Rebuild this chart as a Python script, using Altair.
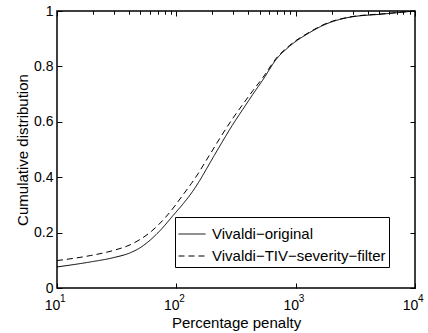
import altair as alt
import pandas as pd

pen_original = [10, 19, 30, 41, 50, 60, 73, 94, 114, 134, 157, 179, 205, 231, 299, 362, 439, 532, 689, 891, 1309, 1800, 2800, 5400, 10000]
cdf_original = [0.076, 0.094, 0.110, 0.127, 0.146, 0.172, 0.207, 0.262, 0.304, 0.343, 0.388, 0.430, 0.474, 0.512, 0.592, 0.646, 0.700, 0.752, 0.826, 0.873, 0.922, 0.953, 0.977, 0.989, 1.0]
pen_filter = [10, 19, 30, 41, 50, 60, 70, 80, 97, 114, 134, 155, 173, 195, 231, 299, 362, 439, 532, 689, 891, 1309, 1800, 2800, 5400, 10000]
cdf_filter = [0.099, 0.117, 0.136, 0.156, 0.176, 0.200, 0.226, 0.252, 0.296, 0.337, 0.378, 0.418, 0.452, 0.488, 0.540, 0.614, 0.664, 0.713, 0.760, 0.830, 0.876, 0.924, 0.955, 0.978, 0.990, 1.0]
series_names = ["Vivaldi\u2212original", "Vivaldi\u2212TIV\u2212severity\u2212filter"]

major_x = [10, 100, 1000, 10000]
exponents = ["1", "2", "3", "4"]
minor_x = [m * d for d in (10, 100, 1000) for m in range(2, 10)]
y_ticks = [0, 0.2, 0.4, 0.6, 0.8, 1.0]

rows = [{"x": p, "y": v, "s": series_names[0]} for p, v in zip(pen_original, cdf_original)]
rows += [{"x": p, "y": v, "s": series_names[1]} for p, v in zip(pen_filter, cdf_filter)]
df = pd.DataFrame(rows)

FONT = "Liberation Sans"
xs = alt.Scale(type="log", domain=[10, 10000], nice=False)
ys = alt.Scale(domain=[0, 1], nice=False)
TS_MAJ = {"expr": "-5"}
TS_MIN = {"expr": "-3"}

lines = alt.Chart(df).mark_line(color="black", strokeWidth=1, interpolate="monotone").encode(
    x=alt.X("x:Q", scale=xs, axis=alt.Axis(
        values=major_x, labelExpr="'10'", tickSize=TS_MAJ, domain=False,
        labelFontSize=14, labelOffset=-5, labelPadding=15, labelFlush=False, labelColor="black",
        title="Percentage penalty", titleFontSize=15, titleFontWeight="normal",
        titlePadding=3, titleColor="black", tickColor="black", grid=False)),
    y=alt.Y("y:Q", scale=ys, axis=alt.Axis(
        values=y_ticks, format=".1~f", tickSize=TS_MAJ, domain=False,
        labelFontSize=14, labelPadding=9, labelFlush=False, labelColor="black",
        title="Cumulative distribution", titleFontSize=15, titleFontWeight="normal",
        titlePadding=3, titleColor="black", tickColor="black", grid=False)),
    strokeDash=alt.StrokeDash("s:N", sort=series_names,
        scale=alt.Scale(domain=series_names, range=[[1, 0], [6, 4]]),
        legend=alt.Legend(title=None, orient="none", legendX=118, legendY=206,
                          strokeColor="black", fillColor="white", padding=3,
                          symbolType="stroke", symbolSize=729, symbolStrokeWidth=1,
                          symbolStrokeColor="black", labelFontSize=15, labelColor="black",
                          labelOffset=6, rowPadding=-2, labelLimit=400)),
)

def tick_layer(xaxis, yaxis):
    return alt.Chart(df).mark_line(opacity=0).encode(
        x=alt.X("x:Q", scale=xs, axis=xaxis),
        y=alt.Y("y:Q", scale=ys, axis=yaxis),
        detail="s:N",
    )

bottom_minor = tick_layer(
    alt.Axis(values=minor_x, labels=False, tickSize=TS_MIN, domain=False, title=None, grid=False, tickColor="black"),
    alt.Axis(orient="right", values=y_ticks, labels=False, tickSize=TS_MAJ, domain=False, title=None, grid=False, tickColor="black"),
)
top_major = tick_layer(
    alt.Axis(orient="top", values=major_x, labels=False, tickSize=TS_MAJ, domain=False, title=None, grid=False, tickColor="black"),
    None,
)
top_minor = tick_layer(
    alt.Axis(orient="top", values=minor_x, labels=False, tickSize=TS_MIN, domain=False, title=None, grid=False, tickColor="black"),
    None,
)

exp_df = pd.DataFrame({"x": major_x, "y": [0] * 4, "e": exponents})
exps = alt.Chart(exp_df).mark_text(align="left", baseline="alphabetic", dx=3, dy=14,
                                   fontSize=10, font=FONT, color="black").encode(
    x=alt.X("x:Q", scale=xs, axis=None),
    y=alt.Y("y:Q", scale=ys, axis=None),
    text="e:N",
)

chart = alt.layer(lines, bottom_minor, top_major, top_minor, exps).resolve_axis(
    x="independent", y="independent"
).properties(
    width=358, height=277,
    autosize=alt.AutoSizeParams(type="none"),
    padding={"left": 57, "top": 11, "right": 13, "bottom": 45},
).configure(font=FONT).configure_view(stroke="black", strokeWidth=1.5)

chart.save("out.html", embed_options={"renderer": "svg", "actions": False})
